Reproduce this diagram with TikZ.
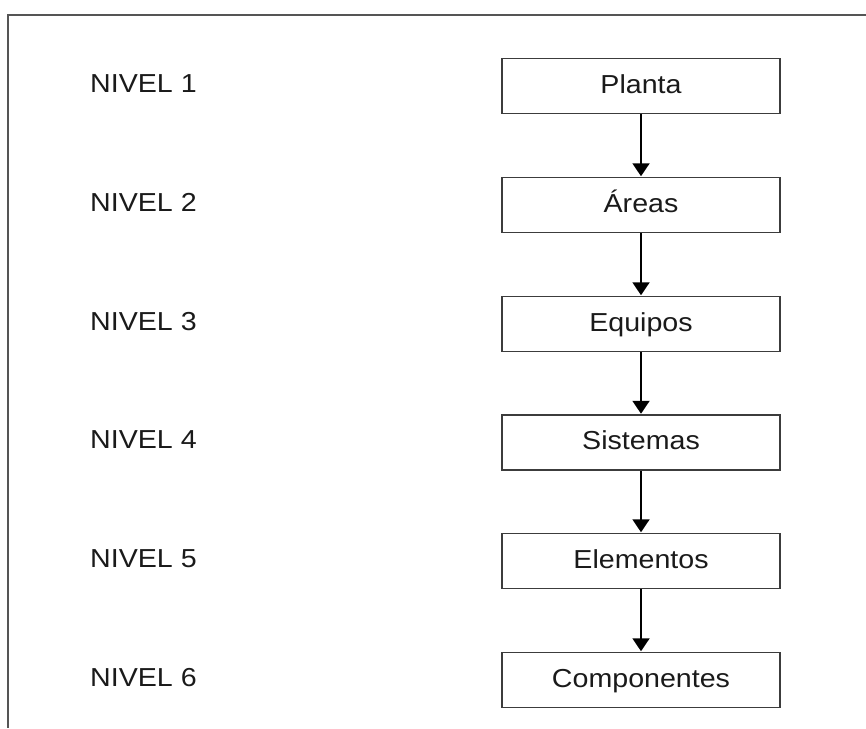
\documentclass[tikz,border=0pt]{standalone}
\usepackage{fontspec}
\setmainfont[FakeStretch=1.1]{Liberation Sans}
\usetikzlibrary{arrows.meta}
\definecolor{ink}{HTML}{1A1A1A}
\definecolor{edge}{HTML}{3C3C3C}
\definecolor{framec}{HTML}{555555}
\begin{document}
\begin{tikzpicture}[x=1pt,y=-1pt,
  levelbox/.style={draw=edge, line width=1.5pt, minimum width=278pt, minimum height=55pt,
    inner sep=0pt, text height=19pt, text depth=5pt, text=ink, font=\fontsize{26}{30}\selectfont},
  levellabel/.style={anchor=base west, inner sep=0pt, text=ink, font=\fontsize{26}{30}\selectfont},
  flow/.style={draw=black, line width=2pt, -{Triangle[width=17pt,length=13pt]}, shorten >=0.5pt}]
  \useasboundingbox (0,0) rectangle (866,728);
  % outer frame (top and left edges)
  \draw[framec, line width=2pt] (866,15) -- (8,15) -- (8,728);

  % hierarchy boxes
  \node[levelbox] (planta)  at (641,86)    {Planta};
  \node[levelbox] (areas)   at (641,205)   {Áreas};
  \node[levelbox] (equipos) at (641,324)   {Equipos};
  \node[levelbox] (sist)    at (641,442.5) {Sistemas};
  \node[levelbox] (elem)    at (641,561)   {Elementos};
  \node[levelbox] (comp)    at (641,680)   {Componentes};

  % level labels
  \node[levellabel] (n1) at (90,92)    {NIVEL 1};
  \node[levellabel] (n2) at (90,211)   {NIVEL 2};
  \node[levellabel] (n3) at (90,330)   {NIVEL 3};
  \node[levellabel] (n4) at (90,448.5) {NIVEL 4};
  \node[levellabel] (n5) at (90,567)   {NIVEL 5};
  \node[levellabel] (n6) at (90,686)   {NIVEL 6};

  % connectors
  \draw[flow] (planta.south) -- (areas.north);
  \draw[flow] (areas.south) -- (equipos.north);
  \draw[flow] (equipos.south) -- (sist.north);
  \draw[flow] (sist.south) -- (elem.north);
  \draw[flow] (elem.south) -- (comp.north);
\end{tikzpicture}
\end{document}
